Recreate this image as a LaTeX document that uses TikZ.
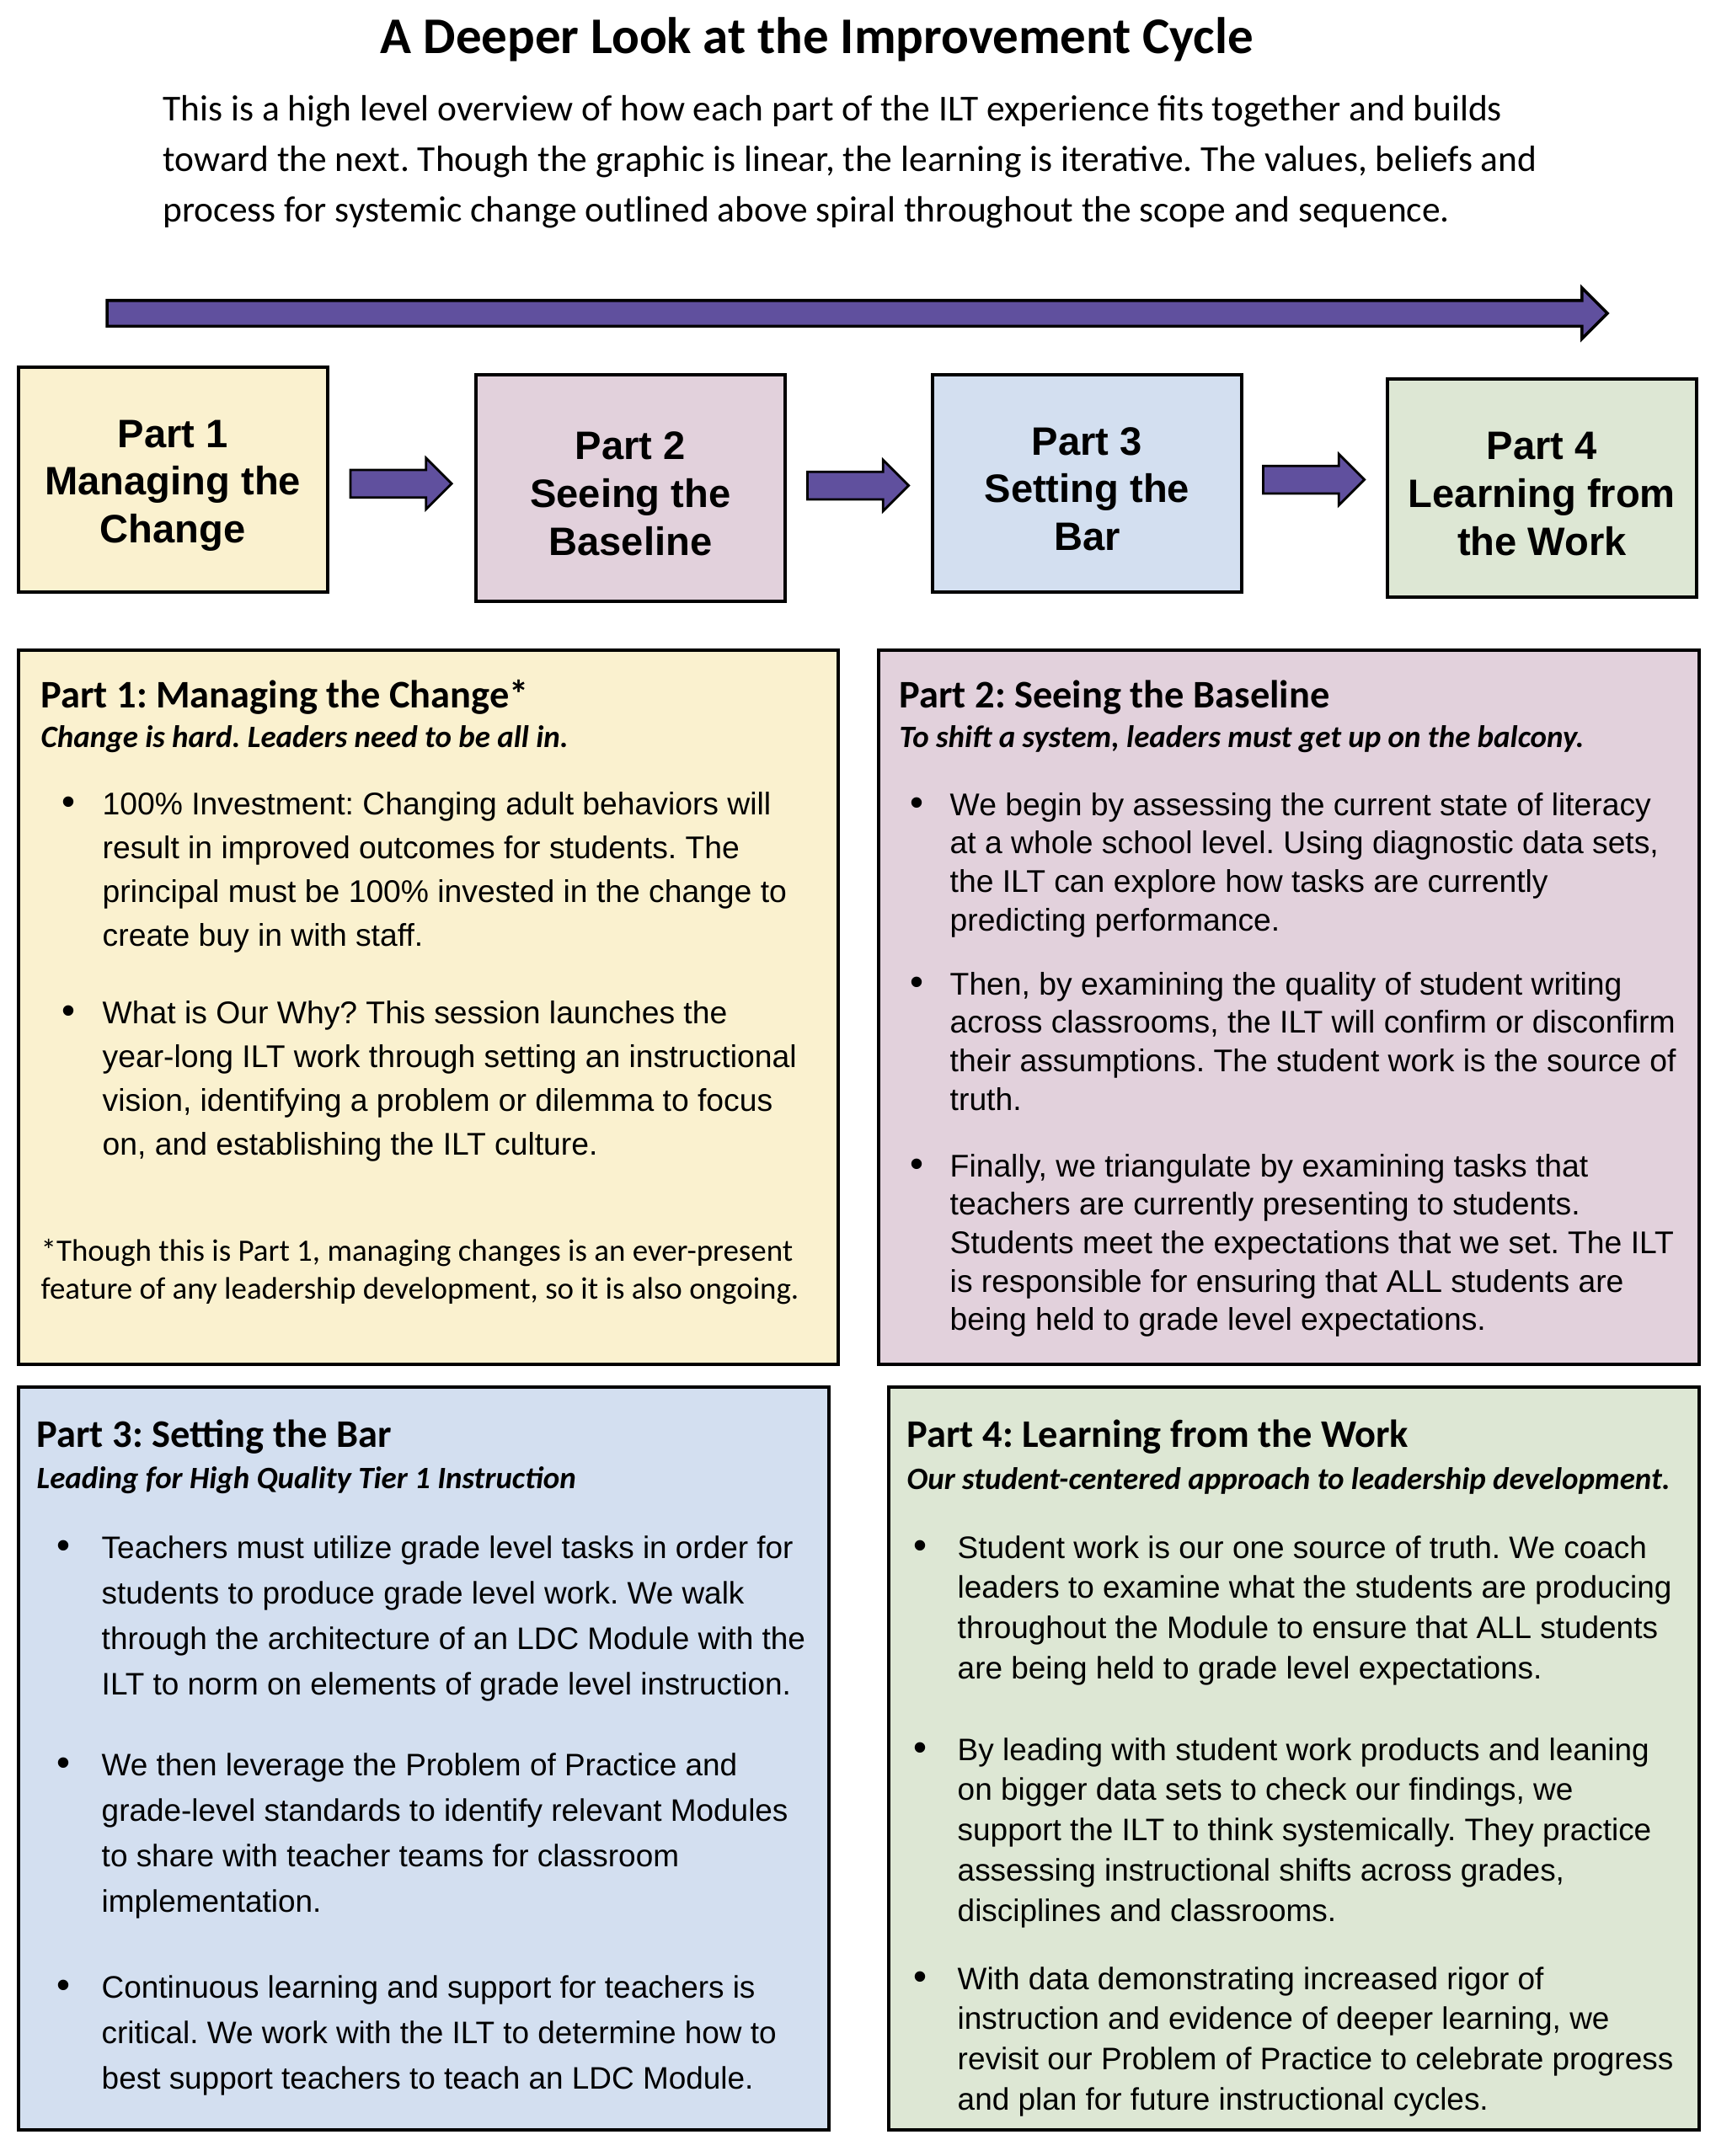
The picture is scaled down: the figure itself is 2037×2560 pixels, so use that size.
\documentclass[tikz,border=0pt]{standalone}
\usepackage{fontspec}
\setmainfont{Liberation Sans}
\newfontfamily\calibri{Carlito}
\usepackage{tikz}
\usetikzlibrary{shapes.arrows,calc}
\frenchspacing

\definecolor{partyellow}{RGB}{250,241,207}
\definecolor{partpink}{RGB}{226,209,220}
\definecolor{partblue}{RGB}{211,223,240}
\definecolor{partgreen}{RGB}{221,231,212}
\definecolor{flowpurple}{RGB}{96,80,158}

\begin{document}
\begin{tikzpicture}[
    x=0.01cm, y=-0.01cm,
    title/.style={anchor=base, inner sep=0pt, font=\calibri\bfseries\fontsize{17.35}{20}\selectfont},
    intro/.style={anchor=base west, inner sep=0pt, font=\calibri\fontsize{12.35}{17.1}\selectfont},
    part/.style={rectangle, draw=black, line width=1pt, anchor=north west, minimum width=3.67cm, align=center, inner sep=0pt, font=\bfseries\fontsize{13.4}{16.1}\selectfont},
    panel/.style={rectangle, draw=black, line width=1.2pt, anchor=north west, inner sep=0pt},
    heading/.style={anchor=base west, inner sep=0pt, font=\calibri\bfseries\fontsize{13.2}{16}\selectfont},
    tagline/.style={anchor=base west, inner sep=0pt, font=\calibri\bfseries\itshape\fontsize{10.5}{13}\selectfont},
    bul/.style 2 args={anchor=base west, inner sep=0pt, font=\fontsize{#1}{#2}\selectfont},
    note/.style={anchor=base west, inner sep=0pt, font=\calibri\fontsize{10.5}{12.9}\selectfont},
    flow/.style={single arrow, draw=black, line width=1pt, fill=flowpurple, inner xsep=0pt, inner ysep=0.135cm, minimum width=0.57cm, single arrow head extend=0.15cm, single arrow tip angle=90},
    step arrow/.style={single arrow, draw=black, line width=0.8pt, fill=flowpurple, inner xsep=0pt, inner ysep=0.15cm, minimum width=0.58cm, minimum height=1.2cm, single arrow head extend=0.14cm, single arrow tip angle=90, xshift=-0.09cm}
]
    \useasboundingbox (0,0) rectangle (2037,2560);

    % Title and introduction
    \node [title] (title) at (970,63) {A Deeper Look at the Improvement Cycle};
    \node [intro] (intro) at (193,143) {\parbox[t]{18cm}{This is a high level overview of how each part of the ILT experience fits together and builds\\
        toward the next. Though the graphic is linear, the learning is iterative. The values, beliefs and\\
        process for systemic change outlined above spiral throughout the scope and sequence.}};

    % Long arrow
    \node [flow, minimum height=17.8cm] (timeline) at (1010,372) {};

    % Part boxes
    \node [part, fill=partyellow, minimum height=2.67cm] (p1) at (20,434) {\rule{0pt}{13.3pt}Part 1\\Managing the\\Change};
    \node [part, fill=partpink, minimum height=2.69cm] (p2) at (563,443) {\rule{0pt}{13.3pt}Part 2\\Seeing the\\Baseline};
    \node [part, fill=partblue, minimum height=2.58cm] (p3) at (1105,443) {\rule{0pt}{13.3pt}Part 3\\Setting the\\Bar};
    \node [part, fill=partgreen, minimum height=2.59cm] (p4) at (1645,448) {\rule{0pt}{13.3pt}Part 4\\Learning from\\the Work};

    % Arrows between parts
    \node [step arrow] (a12) at ($(p1.east)!0.5!(p2.west)$) {};
    \node [step arrow] (a23) at ($(p2.east)!0.5!(p3.west)$) {};
    \node [step arrow, yshift=0.07cm] (a34) at ($(p3.east)!0.5!(p4.west)$) {};

    % Detail panels
    \node [panel, fill=partyellow, minimum width=9.72cm, minimum height=8.47cm] (boxA) at (20,770) {};
    \node [panel, fill=partpink, minimum width=9.73cm, minimum height=8.47cm] (boxB) at (1041,770) {};
    \node [panel, fill=partblue, minimum width=9.61cm, minimum height=8.81cm] (boxC) at (20,1645) {};
    \node [panel, fill=partgreen, minimum width=9.61cm, minimum height=8.81cm] (boxD) at (1053,1645) {};

    % Part 1 text
    \node [heading] (headA) at (48,840) {Part 1: Managing the Change*};
    \node [tagline] (tagA) at (48,887) {Change is hard. Leaders need to be all in.};
    \node [bul={10.6}{14.8}] (a1) at (73,967) {\makebox[0.48cm][l]{\fontsize{13}{13}\selectfont•}\parbox[t]{10cm}{100\% Investment: Changing adult behaviors will\\
        result in improved outcomes for students. The\\
        principal must be 100\% invested in the change to\\
        create buy in with staff.}};
    \node [bul={10.6}{14.8}] (a2) at (73,1215) {\makebox[0.48cm][l]{\fontsize{13}{13}\selectfont•}\parbox[t]{10cm}{What is Our Why? This session launches the\\
        year-long ILT work through setting an instructional\\
        vision, identifying a problem or dilemma to focus\\
        on, and establishing the ILT culture.}};
    \node [note] (noteA) at (48,1497) {\parbox[t]{10cm}{*Though this is Part 1, managing changes is an ever-present\\
        feature of any leadership development, so it is also ongoing.}};

    % Part 2 text
    \node [heading] (headB) at (1067,840) {Part 2: Seeing the Baseline};
    \node [tagline] (tagB) at (1067,887) {To shift a system, leaders must get up on the balcony.};
    \node [bul={10.6}{13}] (b1) at (1080,968) {\makebox[0.47cm][l]{\fontsize{13}{13}\selectfont•}\parbox[t]{10cm}{We begin by assessing the current state of literacy\\
        at a whole school level. Using diagnostic data sets,\\
        the ILT can explore how tasks are currently\\
        predicting performance.}};
    \node [bul={10.6}{13}] (b2) at (1080,1181) {\makebox[0.47cm][l]{\fontsize{13}{13}\selectfont•}\parbox[t]{10cm}{Then, by examining the quality of student writing\\
        across classrooms, the ILT will confirm or disconfirm\\
        their assumptions. The student work is the source of\\
        truth.}};
    \node [bul={10.6}{13}] (b3) at (1080,1397) {\makebox[0.47cm][l]{\fontsize{13}{13}\selectfont•}\parbox[t]{10cm}{Finally, we triangulate by examining tasks that\\
        teachers are currently presenting to students.\\
        Students meet the expectations that we set. The ILT\\
        is responsible for ensuring that ALL students are\\
        being held to grade level expectations.}};

    % Part 3 text
    \node [heading] (headC) at (43,1718) {Part 3: Setting the Bar};
    \node [tagline] (tagC) at (43,1767) {Leading for High Quality Tier 1 Instruction};
    \node [bul={10.5}{15.4}] (c1) at (67,1850) {\makebox[0.53cm][l]{\fontsize{13}{13}\selectfont•}\parbox[t]{10cm}{Teachers must utilize grade level tasks in order for\\
        students to produce grade level work. We walk\\
        through the architecture of an LDC Module with the\\
        ILT to norm on elements of grade level instruction.}};
    \node [bul={10.5}{15.4}] (c2) at (67,2108) {\makebox[0.53cm][l]{\fontsize{13}{13}\selectfont•}\parbox[t]{10cm}{We then leverage the Problem of Practice and\\
        grade-level standards to identify relevant Modules\\
        to share with teacher teams for classroom\\
        implementation.}};
    \node [bul={10.5}{15.4}] (c3) at (67,2372) {\makebox[0.53cm][l]{\fontsize{13}{13}\selectfont•}\parbox[t]{10cm}{Continuous learning and support for teachers is\\
        critical. We work with the ILT to determine how to\\
        best support teachers to teach an LDC Module.}};

    % Part 4 text
    \node [heading] (headD) at (1076,1718) {Part 4: Learning from the Work};
    \node [tagline] (tagD) at (1076,1768) {Our student-centered approach to leadership development.};
    \node [bul={10.5}{13.6}] (d1) at (1084,1850) {\makebox[0.52cm][l]{\fontsize{13}{13}\selectfont•}\parbox[t]{10cm}{Student work is our one source of truth. We coach\\
        leaders to examine what the students are producing\\
        throughout the Module to ensure that ALL students\\
        are being held to grade level expectations.}};
    \node [bul={10.5}{13.6}] (d2) at (1084,2090) {\makebox[0.52cm][l]{\fontsize{13}{13}\selectfont•}\parbox[t]{10cm}{By leading with student work products and leaning\\
        on bigger data sets to check our findings, we\\
        support the ILT to think systemically. They practice\\
        assessing instructional shifts across grades,\\
        disciplines and classrooms.}};
    \node [bul={10.5}{13.6}] (d3) at (1084,2362) {\makebox[0.52cm][l]{\fontsize{13}{13}\selectfont•}\parbox[t]{10cm}{With data demonstrating increased rigor of\\
        instruction and evidence of deeper learning, we\\
        revisit our Problem of Practice to celebrate progress\\
        and plan for future instructional cycles.}};

\end{tikzpicture}
\end{document}
